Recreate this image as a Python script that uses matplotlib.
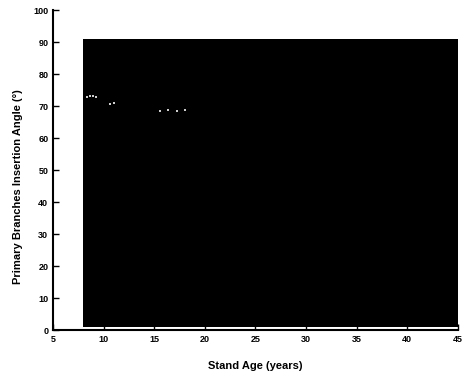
import matplotlib
matplotlib.use("Agg")
import matplotlib.pyplot as plt
import numpy as np

# data
band_x = [8.0, 45.0]
band_upper = [91.0, 91.0]
band_lower = [1.0, 1.0]
# faint light specks visible inside the dark band
pt_x = [8.3, 8.6, 8.9, 9.2, 10.6, 11.0, 15.6, 16.4, 17.2, 18.0]
pt_y = [73.0, 73.3, 73.1, 73.0, 70.8, 71.0, 68.6, 68.8, 68.6, 68.9]

xticks = [5, 10, 15, 20, 25, 30, 35, 40, 45]
yticks = [0, 10, 20, 30, 40, 50, 60, 70, 80, 90, 100]

plt.rcParams['font.family'] = ['Liberation Sans', 'DejaVu Sans']

fig = plt.figure(figsize=(4.62, 3.76), dpi=100)
ax = fig.add_axes([0.115, 0.122, 0.876, 0.851])

ax.fill_between(band_x, band_lower, band_upper, color='black', linewidth=0)
ax.scatter(pt_x, pt_y, s=3, color='#cccccc', marker='s', linewidths=0, zorder=3)

ax.set_xlim(5, 45)
ax.set_ylim(0, 100)
ax.set_xticks(xticks)
ax.set_yticks(yticks)
ax.tick_params(direction='in', length=4, width=1, labelsize=6.5)
for lab in ax.get_xticklabels() + ax.get_yticklabels():
    lab.set_fontweight('bold')

ax.spines['top'].set_visible(False)
ax.spines['right'].set_visible(False)
ax.spines['left'].set_linewidth(1.5)
ax.spines['bottom'].set_linewidth(1.5)

ax.set_xlabel('Stand Age (years)', fontsize=8, fontweight='bold', labelpad=12)
ax.set_ylabel('Primary Branches Insertion Angle (°)', fontsize=8, fontweight='bold', labelpad=5)
ax.yaxis.set_label_coords(-0.075, 0.45)

fig.savefig('out.png', dpi=100)
